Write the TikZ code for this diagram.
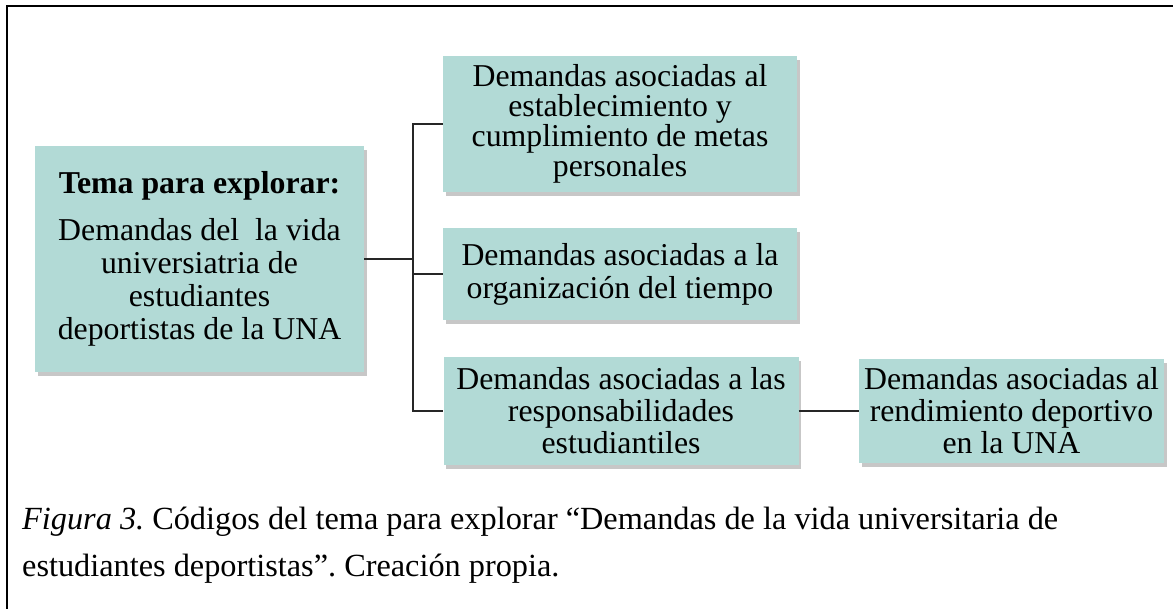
\documentclass[tikz,border=0pt]{standalone}
\usepackage{fontspec}
\setmainfont{Liberation Serif}
\usetikzlibrary{shadows}
\definecolor{boxfill}{RGB}{178,218,214}
\tikzset{
  codebox/.style={draw=none, fill=boxfill, rectangle, align=center, inner sep=0pt,
    drop shadow={shadow xshift=2.5pt, shadow yshift=-4pt, opacity=0.4, fill=black!55}},
  conn/.style={line width=1.3pt, draw=black!85},
}
\frenchspacing
\begin{document}
\begin{tikzpicture}[x=1pt,y=-1pt]
\useasboundingbox (0,0) rectangle (1173,609);
\draw[line width=2.5pt] (7,609) -- (7,6) -- (1173,6);

\node[codebox, minimum width=329pt, minimum height=226pt, font=\fontsize{31.8}{33}\selectfont] (main) at (199.5,259)
  {\textbf{Tema para explorar:}\\[14pt]
   Demandas del\ \ la vida\\universiatria de\\estudiantes\\deportistas de la UNA};

\node[codebox, minimum width=354pt, minimum height=136pt, font=\fontsize{31.8}{30}\selectfont] (b1) at (620,124)
  {Demandas asociadas al\\establecimiento y\\cumplimiento de metas\\personales};

\node[codebox, minimum width=354pt, minimum height=92pt, font=\fontsize{31.8}{33}\selectfont] (b2) at (620,274)
  {Demandas asociadas a la\\organización del tiempo};

\node[codebox, minimum width=355pt, minimum height=107pt, font=\fontsize{31.8}{32}\selectfont] (b3) at (621,411)
  {Demandas asociadas a las\\responsabilidades\\estudiantiles};

\node[codebox, minimum width=305pt, minimum height=104pt, font=\fontsize{31.8}{32}\selectfont] (b4) at (1011.5,411)
  {Demandas asociadas al\\rendimiento deportivo\\en la UNA};

\coordinate (bus) at (413,259);
\draw[conn] (main.east) -- (bus);
\draw[conn] (b1.west) -| (bus) |- (b3.west);
\draw[conn] (bus |- b2.west) -- (b2.west);
\draw[conn] (b3.east) -- (b4.west);

\node[anchor=base west, inner sep=0pt, font=\fontsize{32.3}{38}\selectfont] (cap1) at (22,529)
  {\textit{Figura 3.} Códigos del tema para explorar “Demandas de la vida universitaria de};
\node[anchor=base west, inner sep=0pt, font=\fontsize{32.3}{38}\selectfont] (cap2) at (22,576)
  {estudiantes deportistas”. Creación propia.};
\end{tikzpicture}
\end{document}
